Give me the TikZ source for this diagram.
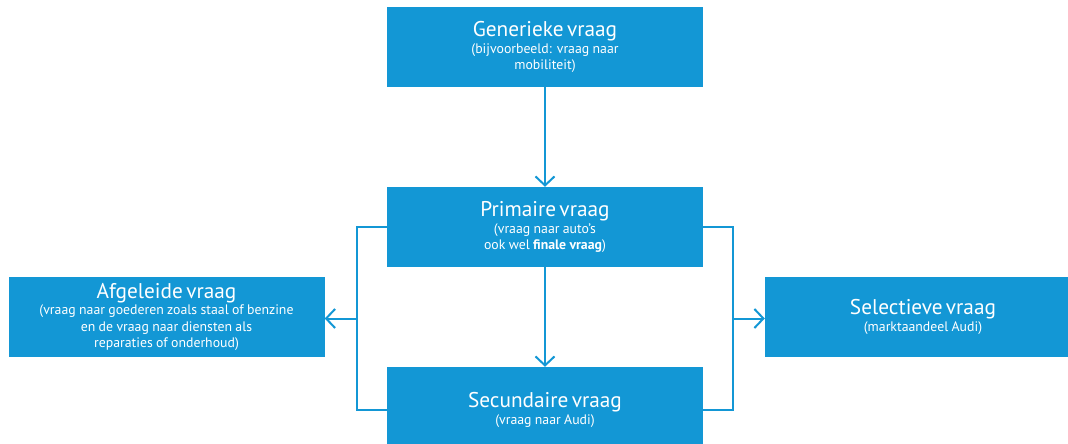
\documentclass[tikz,border=0pt]{standalone}
\usepackage{fontspec}
\setmainfont{PT Sans}
\usetikzlibrary{arrows.meta, calc}
\definecolor{vraagblauw}{RGB}{19,151,213}
\newcommand{\vraagtekst}[2]{{\fontsize{21.3}{19}\selectfont #1\par}{\fontsize{13.8}{16.5}\selectfont #2\par}}
\tikzset{
	vraagbox/.style = {fill = vraagblauw, text = white, minimum width = 316pt, minimum height = 80pt, text width = 310pt, align = center, inner sep = 0pt},
	verbinding/.style = {draw = vraagblauw, line width = 2pt},
	pijl/.style = {verbinding, -{Straight Barb[length = 9pt, width = 19pt]}}
}
\begin{document}
\begin{tikzpicture}[x = 1pt, y = -1pt]
		\clip (0, 0) rectangle (1068, 444);
		\node[vraagbox] (gen) at (545, 47) {\vraagtekst{Generieke vraag}{(bijvoorbeeld: vraag naar\\mobiliteit)}};
		\node[vraagbox] (prim) at (545, 227) {\vraagtekst{Primaire vraag}{(vraag naar auto's\\ook wel \textbf{finale vraag})}};
		\node[vraagbox, minimum height = 86pt] (sec) at (545, 410) {\vraagtekst{Secundaire vraag}{(vraag naar Audi)}};
		\node[vraagbox] (afg) at (166.5, 317) {\vraagtekst{Afgeleide vraag}{(vraag naar goederen zoals staal of benzine\\en de vraag naar diensten als\\reparaties of onderhoud)}};
		\node[vraagbox] (sel) at (923, 317) {\vraagtekst{Selectieve vraag}{(marktaandeel Audi)}};
		\draw[pijl] (gen) -- (prim);
		\draw[pijl] (prim) -- (sec);
		% haken links en rechts
		\foreach \kant/\dx/\doel/\anker in {west/-30/afg/east, east/30/sel/west}{
			\draw[verbinding] (prim.\kant) -- ++(\dx, 0) |- (sec.\kant);
			\coordinate (tak-\doel) at ($(prim.\kant)!0.5!(sec.\kant) + (\dx, 0)$);
			\draw[pijl] (tak-\doel) -- (tak-\doel -| \doel.\anker);}
\end{tikzpicture}
\end{document}
